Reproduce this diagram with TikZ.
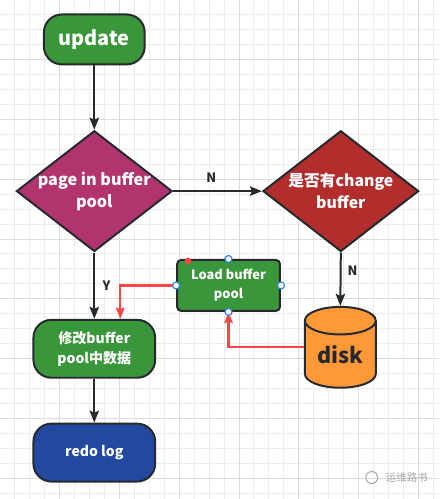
\documentclass[tikz,border=0pt]{standalone}
\usepackage{fontspec}
\setmainfont{Noto Sans CJK SC}
\usetikzlibrary{arrows.meta, shapes.geometric}

\begin{document}
\begin{tikzpicture}[x=0.03cm, y=-0.03cm, font=\bfseries]

\definecolor{grid_minor}{RGB}{236,236,236}
\definecolor{grid_major}{RGB}{220,220,220}
\definecolor{start_color}{RGB}{58,150,58}
\definecolor{check_color}{RGB}{178,52,110}
\definecolor{cb_color}{RGB}{178,46,44}
\definecolor{disk_color}{RGB}{255,153,56}
\definecolor{log_color}{RGB}{34,72,160}
\definecolor{edge_color}{RGB}{38,42,46}
\definecolor{load_line}{RGB}{255,70,70}
\definecolor{handle_color}{RGB}{40,130,240}
\definecolor{mark_color}{RGB}{165,165,165}

\tikzset{
  box/.style={draw=edge_color, line width=0.06cm, text=white, align=center, inner sep=0pt},
  term/.style={box, rounded corners=0.54cm, minimum width=3.66cm, minimum height=1.74cm},
  decide/.style={box, diamond, aspect=1.29, inner sep=-0.15cm, minimum width=4.68cm, minimum height=3.63cm},
  ar/.style={-{Stealth[length=3.6mm, width=2.8mm, inset=0.6mm]}, line width=0.06cm, draw=edge_color},
  redar/.style={-{Stealth[length=3.4mm, width=2.6mm, inset=0.5mm]}, line width=0.065cm, draw=load_line},
  lab/.style={text=edge_color, font=\bfseries\fontsize{11}{13}\selectfont},
  handle/.style={circle, draw=handle_color, fill=white, line width=0.035cm, minimum size=0.21cm, inner sep=0pt},
}

% background grid
\fill[white] (0,0) rectangle (439,499);
\foreach \gx in {14,29,...,434} \draw[grid_minor, line width=0.03cm] (\gx,0) -- (\gx,499);
\foreach \gy in {14,29,...,494} \draw[grid_minor, line width=0.03cm] (0,\gy) -- (439,\gy);
\foreach \gx in {59,119,...,419} \draw[grid_major, line width=0.03cm] (\gx,0) -- (\gx,499);
\foreach \gy in {59,119,...,479} \draw[grid_major, line width=0.03cm] (0,\gy) -- (439,\gy);
\useasboundingbox (0,0) rectangle (439,499);

% flow nodes
\node[term, fill=start_color, minimum width=3.03cm, minimum height=1.5cm, font=\bfseries\fontsize{17}{20}\selectfont] (update) at (94,39) {update};
\node[decide, fill=check_color, font=\bfseries\fontsize{13.8}{19}\selectfont] (check) at (94,191) {page in buffer\\pool};
\node[decide, fill=cb_color, font=\bfseries\fontsize{13.5}{19}\selectfont] (cb) at (341,191) {是否有change\\buffer};
\node[box, fill=start_color, rounded corners=0.12cm, minimum width=3.09cm, minimum height=1.53cm, font=\bfseries\fontsize{11}{16}\selectfont] (load) at (228.5,285.5) {Load buffer\\pool};
\node[box, cylinder, shape border rotate=90, aspect=0.6, anchor=shape center, fill=disk_color, text=edge_color, minimum width=2.13cm, minimum height=2.43cm, font=\bfseries\fontsize{18.5}{22}\selectfont] (disk) at (340.5,347.5) {disk};
\node[term, fill=start_color, font=\bfseries\fontsize{12}{17}\selectfont] (modify) at (94,349) {修改buffer\\pool中数据};
\node[term, fill=log_color, font=\bfseries\fontsize{12}{17}\selectfont] (redo) at (94,453) {redo log};

% connectors
\draw[ar] (update.south) -- (check.north);
\draw[ar] (check.east) -- node[lab, above=0.12cm, pos=0.43] {N} (cb.west);
\draw[ar] (cb.south) -- node[lab, right=0.06cm, pos=0.35] {N} (disk.north);
\draw[ar] (check.south) -- node[lab, right=0.1cm] {Y} (modify.north);
\draw[ar] (modify.south) -- (redo.north);
\draw[redar] (disk.shape center -| disk.west) -| (load.south);
\draw[redar] (load.west) -| ([xshift=0.78cm]modify.north);

% selection handles on the load box
\foreach \side in {north,south,west,east} \node[handle] at (load.\side) {};
\fill[load_line] (188,261) circle (0.1cm);

% watermark
\draw[mark_color, line width=0.03cm] (372,478) circle (0.18cm);
\node[text=mark_color, font=\fontsize{9}{10}\selectfont, anchor=west] (wm) at (382,478) {运维路书};

\end{tikzpicture}
\end{document}
